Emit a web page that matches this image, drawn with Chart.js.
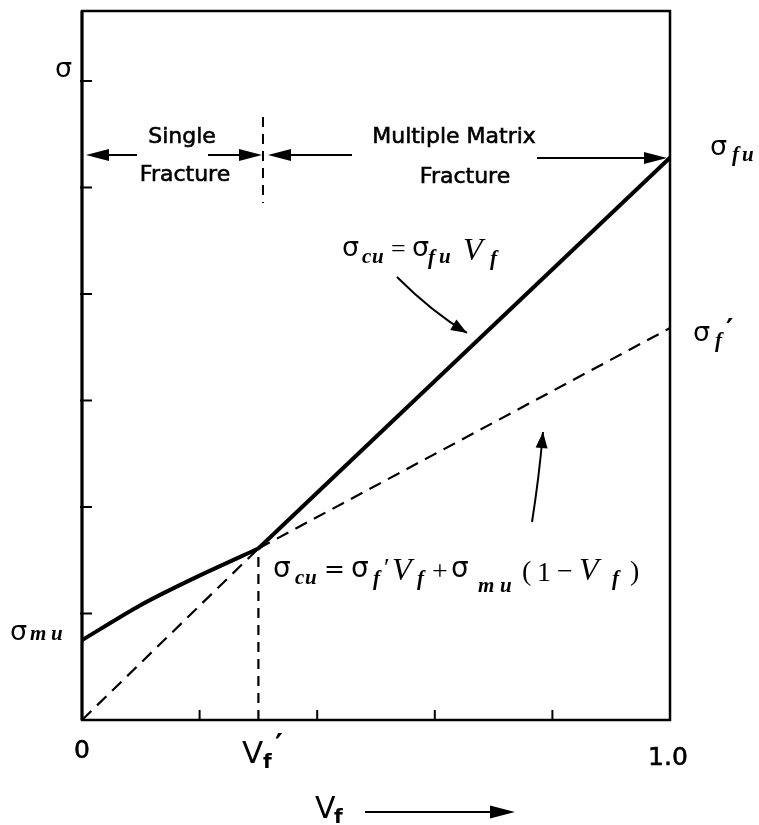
<!DOCTYPE html>
<html><head><meta charset="utf-8">
<script src="https://cdn.jsdelivr.net/npm/chart.js@4/dist/chart.umd.min.js"></script>
<style>html,body{margin:0;padding:0;background:#fff}#wrap{width:759px;height:825px}</style>
</head><body><div id="wrap"><canvas id="c" width="759" height="825"></canvas></div>
<script>
// ---- data (axis units: Vf from 0 to 1, stress in tick units) ----
const vfPrime = 0.3;
const singleFracX = [0, 0.1, 0.19, 0.3];
const singleFracY = [0.75, 1.08, 1.33, 1.61];
const multiFracX = [0.3, 1.0];
const multiFracY = [1.61, 5.28];
const fiberLineX = [0, 0.3];
const fiberLineY = [0, 1.61];
const mixLineX = [0.3, 1.0];
const mixLineY = [1.61, 3.68];
const vfPrimeLineY = [0, 1.61];
const xTicks = [0.2, 0.4, 0.6, 0.8];
const yTicks = [1, 2, 3, 4, 5, 6];
const xTickLabels = ['0', '1.0'];
const xTickLabelValues = [0, 1.0];

const pts = (xs, ys) => xs.map((x, i) => ({x, y: ys[i]}));

const SIG = '27px "DejaVu Sans"';
const SIG2 = '28px "DejaVu Sans"';
const SUB = 'italic bold 21px "Liberation Serif"';
const VI = 'italic 32px "Liberation Serif"';
const EQ = '26px "Liberation Serif"';
const EQ2 = '25px "DejaVu Sans"';
const OP = '28px "Liberation Serif"';
const SANS = '22px "DejaVu Sans"';
const TICKF = '25px "DejaVu Sans"';

function rich(ctx, px, py, items) {
  ctx.textAlign = 'left'; ctx.textBaseline = 'alphabetic';
  items.forEach(([t, f, dx, dy]) => { ctx.font = f; ctx.fillText(t, px + dx, py + dy); });
}
function boldText(ctx, t, x, y) {
  ctx.fillText(t, x, y);
  ctx.lineWidth = 0.6; ctx.strokeText(t, x, y);
}
function head(ctx, tx, ty, ang, len, half) {
  ctx.beginPath();
  ctx.moveTo(tx, ty);
  ctx.lineTo(tx - len * Math.cos(ang) + half * Math.sin(ang), ty - len * Math.sin(ang) - half * Math.cos(ang));
  ctx.lineTo(tx - len * Math.cos(ang) - half * Math.sin(ang), ty - len * Math.sin(ang) + half * Math.cos(ang));
  ctx.closePath(); ctx.fill();
}

const overlay = {
  id: 'overlay',
  afterDatasetsDraw(chart) {
    const {ctx, chartArea: a, scales: {x: sx, y: sy}} = chart;
    const X = v => sx.getPixelForValue(v), Y = v => sy.getPixelForValue(v);
    ctx.save();
    ctx.strokeStyle = '#000'; ctx.fillStyle = '#000';
    // frame
    ctx.lineWidth = 2.5;
    ctx.strokeRect(a.left, a.top, a.right - a.left, a.bottom - a.top);
    ctx.lineWidth = 3;
    ctx.beginPath(); ctx.moveTo(a.left, a.top); ctx.lineTo(a.left, a.bottom); ctx.stroke();
    // inward ticks
    ctx.lineWidth = 2;
    xTicks.forEach(v => { ctx.beginPath(); ctx.moveTo(X(v), a.bottom); ctx.lineTo(X(v), a.bottom - 10); ctx.stroke(); });
    yTicks.forEach(v => { ctx.beginPath(); ctx.moveTo(a.left - 2, Y(v)); ctx.lineTo(a.left + 10, Y(v)); ctx.stroke(); });
    // top divider (dashed)
    ctx.setLineDash([10, 7]); ctx.lineWidth = 2;
    ctx.beginPath(); ctx.moveTo(X(0.3078), Y(5.662)); ctx.lineTo(X(0.3078), Y(4.854)); ctx.stroke();
    ctx.setLineDash([]);
    // region arrows
    const arrows = [[0.0935, 0.0068, 5.305], [0.2143, 0.3061, 5.305], [0.4592, 0.3163, 5.305], [0.7738, 0.9949, 5.277]];
    arrows.forEach(([x0, x1, yv]) => {
      const p0 = X(x0), p1 = X(x1), py = Y(yv), s = Math.sign(p1 - p0);
      ctx.lineWidth = 2;
      ctx.beginPath(); ctx.moveTo(p0, py); ctx.lineTo(p1 - s * 15, py); ctx.stroke();
      head(ctx, p1, py, s > 0 ? 0 : Math.PI, 23, 6);
    });
    // region text
    ctx.font = SANS; ctx.textAlign = 'center'; ctx.textBaseline = 'middle';
    boldText(ctx, 'Single', X(0.1701), Y(5.474));
    boldText(ctx, 'Fracture', X(0.1752), Y(5.117));
    boldText(ctx, 'Multiple Matrix', X(0.6327), Y(5.474));
    boldText(ctx, 'Fracture', X(0.6514), Y(5.099));
    // curved arrows
    function curve(s, c, e, len, half) {
      ctx.lineWidth = 2;
      ctx.beginPath(); ctx.moveTo(X(s[0]), Y(s[1]));
      ctx.quadraticCurveTo(X(c[0]), Y(c[1]), X(e[0]), Y(e[1])); ctx.stroke();
      const ang = Math.atan2(Y(e[1]) - Y(c[1]), X(e[0]) - X(c[0]));
      head(ctx, X(e[0]), Y(e[1]), ang, len, half);
    }
    curve([0.5357, 4.160], [0.5952, 3.831], [0.6548, 3.634], 16, 6);
    curve([0.7653, 1.859], [0.7772, 2.272], [0.7840, 2.704], 16, 6);
    // formula 1
    rich(ctx, X(0.4422), Y(4.319), [
      ['σ', SIG, 0, -4], ['c', SUB, 20, 3], ['u', SUB, 30, 3], ['=', EQ, 49, -3],
      ['σ', SIG, 70, -4], ['f', SUB, 86, 4], ['u', SUB, 97, 3], ['V', VI, 121, 0], ['f', SUB, 148, 5]
    ]);
    // formula 2
    rich(ctx, X(0.3248), Y(1.315), [
      ['σ', SIG2, 0, -3], ['c', SUB, 22, 4], ['u', SUB, 32, 4], ['=', EQ2, 51, -3],
      ['σ', SIG2, 78, -3], ['f', SUB, 100, 5], ['′', EQ, 111, -4], ['V', VI, 119, 0], ['f', SUB, 144, 5],
      ['+', OP, 159, 0], ['σ', SIG2, 178, -3], ['m', SUB, 205, 12], ['u', SUB, 227, 12],
      ['(', OP, 249, 0], ['1', OP, 264, 1], ['−', OP, 284, 0], ['V', VI, 306, 0], ['f', SUB, 339, 5], [')', OP, 357, 0]
    ]);
    // axis & side labels
    rich(ctx, X(-0.0459), Y(6.038), [['σ', SIG, 0, 0]]);
    rich(ctx, X(-0.1224), Y(0.770), [['σ', SIG, 0, 2], ['m', SUB, 20, 2], ['u', SUB, 41, 2]]);
    rich(ctx, X(1.0680), Y(5.305), [['σ', SIG, 0, 0], ['f', SUB, 22, 6], ['u', SUB, 32, 6]]);
    rich(ctx, X(1.0391), Y(3.559), [['σ', SIG, 0, 0], ['f', SUB, 22, 6], ['′', 'bold 28px "DejaVu Sans"', 33, -2]]);
    // x tick labels
    ctx.font = TICKF; ctx.textAlign = 'center'; ctx.textBaseline = 'middle';
    boldText(ctx, xTickLabels[0], X(xTickLabelValues[0]), Y(-0.300));
    boldText(ctx, xTickLabels[1], X(xTickLabelValues[1]) - 2, Y(-0.366));
    rich(ctx, X(0.2721), Y(-0.404), [['V', '31px "DejaVu Sans"', 0, 0], ['f', 'bold 20px "DejaVu Sans"', 21, 5], ['′', 'bold 30px "DejaVu Sans"', 33, -8]]);
    // axis title
    rich(ctx, X(0.3963), Y(-0.920), [['V', '30px "DejaVu Sans"', 0, 0], ['f', 'bold 20px "DejaVu Sans"', 19, 5]]);
    ctx.lineWidth = 2;
    ctx.beginPath(); ctx.moveTo(X(0.4813), Y(-0.864)); ctx.lineTo(X(0.7364) - 15, Y(-0.864)); ctx.stroke();
    head(ctx, X(0.7364), Y(-0.864), 0, 25, 6.5);
    ctx.restore();
  }
};

new Chart(document.getElementById('c'), {
  type: 'scatter',
  data: {
    datasets: [
      {label: 'single', data: pts(singleFracX, singleFracY), showLine: true, borderColor: '#000', borderWidth: 4, pointRadius: 0, tension: 0.25},
      {label: 'multiple', data: pts(multiFracX, multiFracY), showLine: true, borderColor: '#000', borderWidth: 4, pointRadius: 0},
      {label: 'fiber', data: pts(fiberLineX, fiberLineY), showLine: true, borderColor: '#000', borderWidth: 2.2, borderDash: [13, 8], pointRadius: 0},
      {label: 'mix', data: pts(mixLineX, mixLineY), showLine: true, borderColor: '#000', borderWidth: 2.2, borderDash: [13, 8], pointRadius: 0},
      {label: 'vfprime', data: pts([vfPrime, vfPrime], vfPrimeLineY), showLine: true, borderColor: '#000', borderWidth: 2.2, borderDash: [10, 7], pointRadius: 0}
    ]
  },
  options: {
    responsive: false, animation: false, devicePixelRatio: 1,
    layout: {padding: {left: 82, right: 89, top: 11, bottom: 105}},
    plugins: {legend: {display: false}, tooltip: {enabled: false}},
    scales: {
      x: {type: 'linear', min: 0, max: 1, display: false},
      y: {type: 'linear', min: 0, max: 6.657, display: false}
    }
  },
  plugins: [overlay]
});
</script></body></html>
